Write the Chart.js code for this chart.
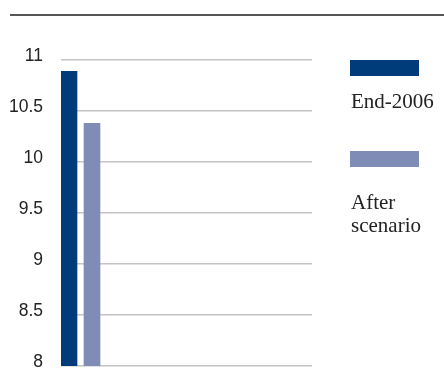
<!DOCTYPE html>
<html>
<head>
<meta charset="utf-8">
<script src="https://cdn.jsdelivr.net/npm/chart.js@4"></script>
<style>
    body { margin: 0; background: #fff; }
    #wrap { position: relative; width: 444px; height: 392px; }
    #rule { position: absolute; left: 10px; right: 0; top: 14px; height: 0; border-top: 2px solid #555; }
    .swatch { position: absolute; left: 350px; width: 69px; height: 16px; }
    .legend-text {
        position: absolute; left: 351px;
        font-family: "Liberation Serif", serif; font-size: 21px; line-height: 23px; color: #222;
    }
</style>
</head>
<body>
<div id="wrap">
    <div id="rule"></div>
    <canvas id="barChart" width="444" height="392"></canvas>
    <div class="swatch" style="top:60px; background:#003c7a"></div>
    <div class="legend-text" style="top:90px">End-2006</div>
    <div class="swatch" style="top:151px; background:#7f8cb5"></div>
    <div class="legend-text" style="top:191px">After<br>scenario</div>
</div>
<script>
const seriesNames = ['End-2006', 'After scenario'];
const seriesValues = [10.89, 10.38];
const seriesColors = ['#003c7a', '#7f8cb5'];
const yTicks = [8, 8.5, 9, 9.5, 10, 10.5, 11];

const ctx = document.getElementById('barChart').getContext('2d');
const barChart = new Chart(ctx, {
    type: 'bar',
    data: {
        // one bar per series, side by side at the left of the plot
        datasets: seriesNames.map((name, i) => ({
            label: name,
            data: [{ x: i, y: seriesValues[i] }],
            backgroundColor: seriesColors[i],
            barThickness: 16,
            grouped: false
        }))
    },
    options: {
        responsive: false,
        animation: false,
        layout: {
            padding: { top: 60, bottom: 26, left: 0, right: 132 }
        },
        plugins: {
            legend: { display: false },
            tooltip: { enabled: false }
        },
        scales: {
            x: {
                type: 'linear',
                display: false,
                offset: false,
                min: -0.348,
                max: 10.565
            },
            y: {
                min: yTicks[0],
                max: yTicks[yTicks.length - 1],
                afterBuildTicks: (scale) => {
                    scale.ticks = yTicks.map(v => ({ value: v }));
                },
                afterFit: (scale) => {
                    // fixed axis width, plot area set only by layout padding
                    scale.width = 61;
                    scale.paddingTop = 0;
                    scale.paddingBottom = 0;
                },
                border: { display: false },
                grid: {
                    color: '#c4c4c4',
                    lineWidth: 1.5,
                    drawTicks: false
                },
                ticks: {
                    color: '#222',
                    padding: 18,
                    labelOffset: -4,
                    font: { family: '"Liberation Sans", Arial, sans-serif', size: 17.5 },
                    callback: (value) => String(value)
                }
            }
        }
    }
});
</script>
</body>
</html>
